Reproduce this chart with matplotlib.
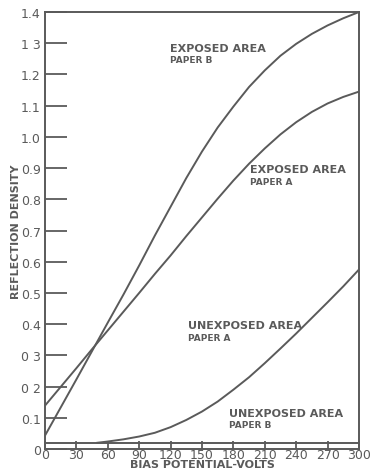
import matplotlib.pyplot as plt

# bias potential (volts) and reflection density
volts = [0, 15, 30, 45, 60, 75, 90, 105, 120, 135, 150,
         165, 180, 195, 210, 225, 240, 255, 270, 285, 300]
exposed_b = [0.043, 0.133, 0.223, 0.314, 0.405, 0.495, 0.588, 0.684, 0.776, 0.868, 0.953,
             1.03, 1.097, 1.16, 1.213, 1.26, 1.298, 1.33, 1.357, 1.38, 1.40]
exposed_a = [0.139, 0.199, 0.259, 0.32, 0.38, 0.44, 0.50, 0.561, 0.62, 0.682, 0.742,
             0.802, 0.86, 0.914, 0.963, 1.008, 1.047, 1.08, 1.107, 1.128, 1.145]
unexp_a_volts = [50, 60, 75, 90, 105, 120, 135, 150, 165, 180, 195,
                 210, 225, 240, 255, 270, 285, 300]
unexposed_a = [0.02, 0.024, 0.031, 0.04, 0.052, 0.07, 0.093, 0.12, 0.152, 0.19, 0.23,
               0.275, 0.322, 0.37, 0.42, 0.47, 0.521, 0.575]
unexp_b_volts = [0, 300]
unexposed_b = [0.02, 0.02]

yticks = [0, 0.1, 0.2, 0.3, 0.4, 0.5, 0.6, 0.7, 0.8, 0.9, 1.0, 1.1, 1.2, 1.3, 1.4]
ytick_labels = ['0', '0.1', '0 2', '0 3', '0.4', '0.5', '0.6', '0.7', '0.8', '0.9',
                '1.0', '1.1', '1.2', '1 3', '1.4']
xticks = [0, 30, 60, 90, 120, 150, 180, 210, 240, 270, 300]
xtick_labels = ['0', '30', '60', '90', '120', '150', '180', '210', '240', '270', '300']

ink = '#5a5a5a'
plt.rcParams['font.family'] = ['DejaVu Sans']

fig = plt.figure(figsize=(3.74, 4.77), dpi=100)
ax = fig.add_axes([0.1203, 0.0566, 0.8395, 0.9161])

for xs, ys in [(volts, exposed_b), (volts, exposed_a), (unexp_a_volts, unexposed_a),
               (unexp_b_volts, unexposed_b)]:
    ax.plot(xs, ys, color=ink, lw=1.4, solid_joinstyle='round')

ax.set_xlim(0, 300)
ax.set_ylim(0, 1.4)
for s in ax.spines.values():
    s.set_color(ink)
    s.set_linewidth(1.4)

ax.set_yticks(yticks)
ax.set_yticklabels(ytick_labels)
ax.set_xticks(xticks)
ax.set_xticklabels(xtick_labels)
ax.tick_params(axis='y', direction='in', length=16, width=1.3, color=ink,
               labelcolor=ink, labelsize=9, pad=3)
ax.tick_params(axis='x', direction='in', length=6, width=1.3, color=ink,
               labelcolor=ink, labelsize=9, pad=-1)

ax.set_xlabel('BIAS POTENTIAL-VOLTS', color=ink, fontsize=8, fontweight='bold',
              labelpad=-1)
ax.set_ylabel('REFLECTION DENSITY', color=ink, fontsize=8, fontweight='bold',
              labelpad=0)

def label(x, y, top, bottom):
    ax.text(x, y, top, color=ink, fontsize=8, fontweight='bold', ha='left', va='bottom')
    ax.text(x, y - 0.008, bottom, color=ink, fontsize=6.5, fontweight='bold',
            ha='left', va='top')

label(119, 1.27, 'EXPOSED AREA', 'PAPER B')
label(196, 0.88, 'EXPOSED AREA', 'PAPER A')
label(137, 0.38, 'UNEXPOSED AREA', 'PAPER A')
label(176, 0.10, 'UNEXPOSED AREA', 'PAPER B')

fig.savefig('out.png', dpi=100)
